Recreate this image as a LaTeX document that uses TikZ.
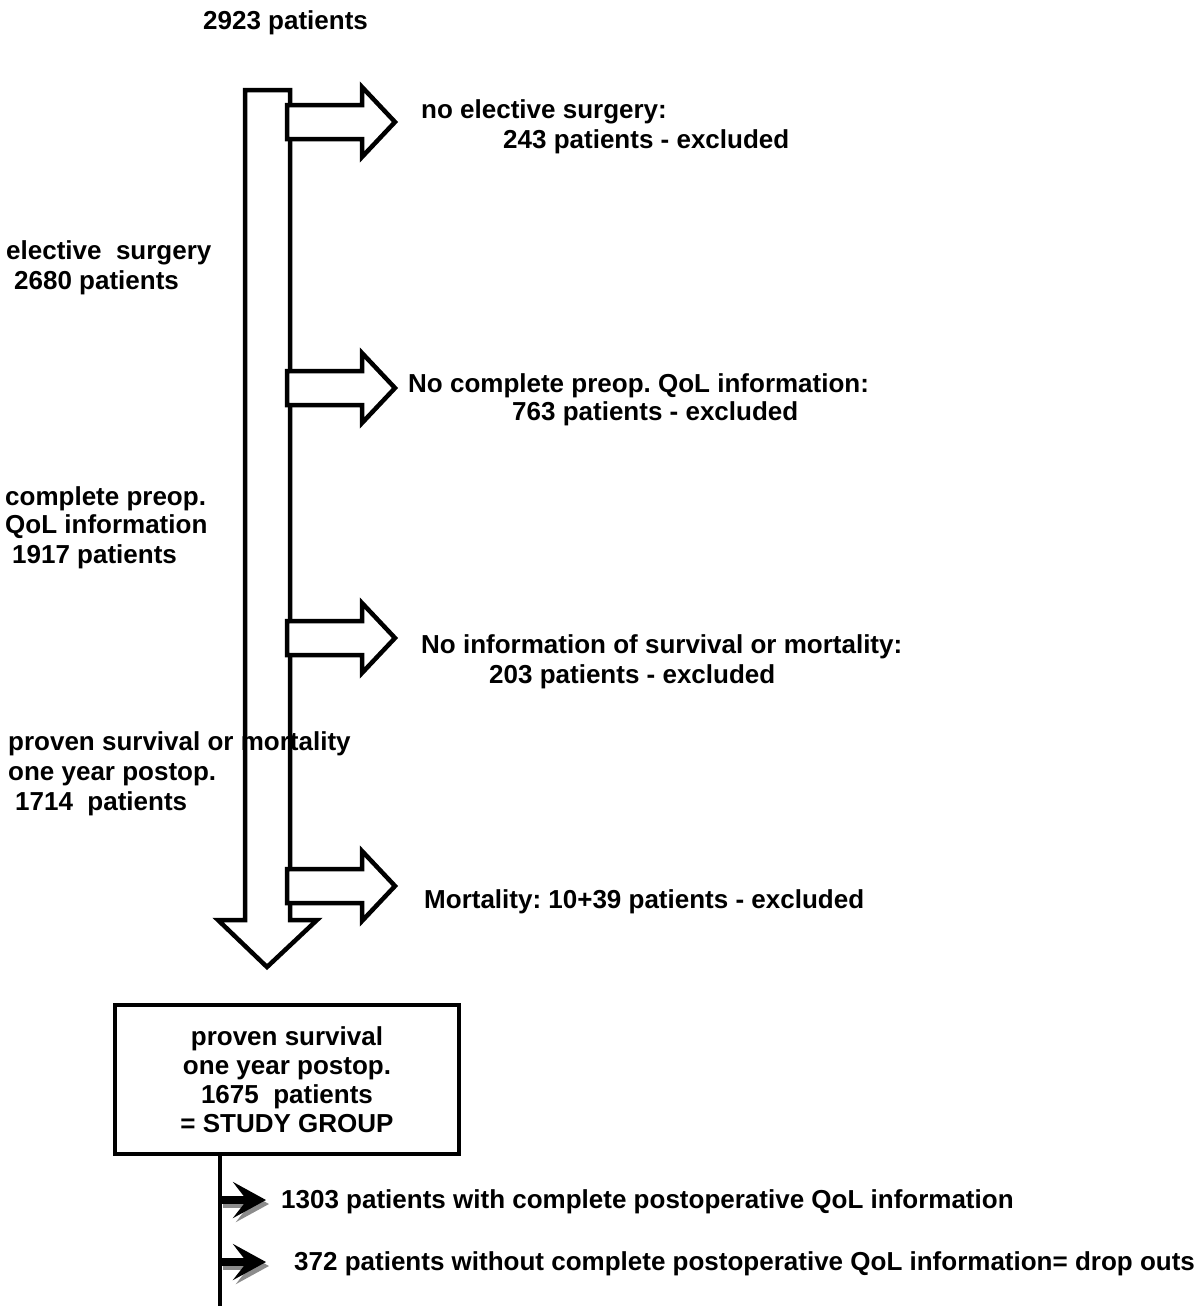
\documentclass[tikz,border=0pt]{standalone}
\usepackage{fontspec}
\setmainfont{Liberation Sans}
\usetikzlibrary{arrows.meta}
\frenchspacing
\begin{document}
\begin{tikzpicture}[x=1pt,y=-1pt,
  txt/.style={anchor=base west,inner sep=0pt,font=\bfseries\fontsize{26}{29}\selectfont},
  bigarrow/.style={draw=black,fill=white,line width=4.5pt,line join=miter},
  sarrow/.style={line width=8pt,-{Stealth[length=33pt,width=36pt,inset=14pt]}},
  sshadow/.style={sarrow,draw=black!45,fill=black!45}]
\useasboundingbox[fill=white] (0,0) rectangle (1200,1314);

% main down arrow
\draw[bigarrow] (245,90) -- (290,90) -- (290,920) -- (317,920) -- (267,967) -- (218,920) -- (245,920) -- cycle;

% side arrows
\foreach \c in {122,388,638,886}{
  \draw[bigarrow] (287,\c-17) -- (362,\c-17) -- (362,\c-35) -- (395,\c) -- (362,\c+35) -- (362,\c+17) -- (287,\c+17) -- cycle;
}

% texts
\node[txt] (t0) at (203,30) {2923 patients};
\node[txt] (e1a) at (421,118) {no elective surgery:};
\node[txt] (e1b) at (503,148) {243 patients - excluded};
\node[txt] (s1a) at (6,259) {elective~~surgery};
\node[txt] (s1b) at (14,289) {2680 patients};
\node[txt] (e2a) at (408,392) {No complete preop. QoL information:};
\node[txt] (e2b) at (512,420) {763 patients - excluded};
\node[txt] (s2a) at (5,505) {complete preop.};
\node[txt] (s2b) at (5,533) {QoL information};
\node[txt] (s2c) at (12,563) {1917 patients};
\node[txt] (e3a) at (421,653) {No information of survival or mortality:};
\node[txt] (e3b) at (489,683) {203 patients - excluded};
\node[txt] (s3a) at (8,750) {proven survival or mortality};
\node[txt] (s3b) at (8,780) {one year postop.};
\node[txt] (s3c) at (15,810) {1714~~patients};
\node[txt] (e4a) at (424,908) {Mortality: 10+39 patients - excluded};

% study group box
\node[draw,line width=4pt,minimum width=344pt,minimum height=149pt,inner sep=0pt,
      align=center,font=\bfseries\fontsize{26}{29}\selectfont] (study) at (287,1079.5)
  {proven survival\\one year postop.\\1675~~patients\\= STUDY GROUP};

% bottom stem and arrows
\coordinate (stemtop) at (220,1154);
\coordinate (stemend) at (220,1306);
\draw[line width=4pt] (stemtop) -- (stemend);

\node[txt] (d1) at (281,1208) {1303 patients with complete postoperative QoL information};
\node[txt] (d2) at (294,1270) {372 patients without complete postoperative QoL information= drop outs};

\coordinate (a1s) at (220,1200);
\coordinate (a1t) at (266,1200);
\coordinate (a2s) at (220,1262);
\coordinate (a2t) at (266,1262);
\draw[sshadow] ([shift={(3,4)}]a1s) -- ([shift={(3,4)}]a1t);
\draw[sshadow] ([shift={(3,4)}]a2s) -- ([shift={(3,4)}]a2t);
\draw[sarrow] (a1s) -- (a1t);
\draw[sarrow] (a2s) -- (a2t);
\end{tikzpicture}
\end{document}
